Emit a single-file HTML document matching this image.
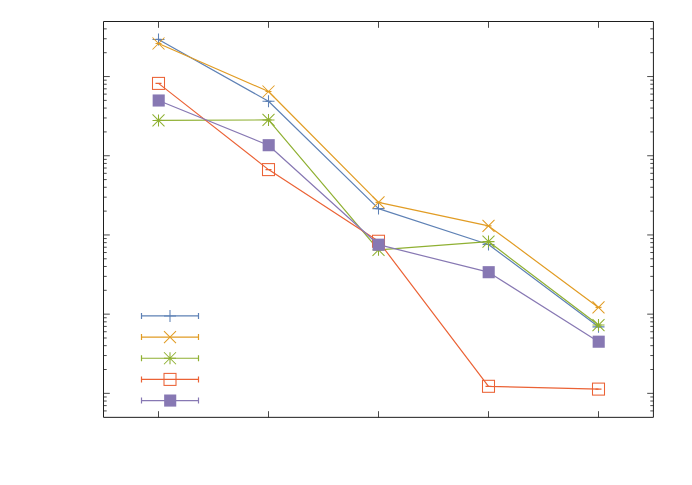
<!DOCTYPE html>
<html><head><meta charset="utf-8"><title>plot</title>
<style>html,body{margin:0;padding:0;background:#fff;font-family:"Liberation Sans",sans-serif}svg{display:block}</style></head><body>
<svg width="692" height="485" viewBox="0 0 692 485">
<rect width="692" height="485" fill="#fff"/>
<path d="M103.5 76.55h6.3M653.5 76.55h-6.3M103.5 155.75h6.3M653.5 155.75h-6.3M103.5 234.95h6.3M653.5 234.95h-6.3M103.5 314.15h6.3M653.5 314.15h-6.3M103.5 393.35h6.3M653.5 393.35h-6.3M103.5 52.71h3.2M653.5 52.71h-3.2M103.5 38.76h3.2M653.5 38.76h-3.2M103.5 28.87h3.2M653.5 28.87h-3.2M103.5 131.91h3.2M653.5 131.91h-3.2M103.5 117.96h3.2M653.5 117.96h-3.2M103.5 108.07h3.2M653.5 108.07h-3.2M103.5 100.39h3.2M653.5 100.39h-3.2M103.5 94.12h3.2M653.5 94.12h-3.2M103.5 88.82h3.2M653.5 88.82h-3.2M103.5 84.23h3.2M653.5 84.23h-3.2M103.5 80.17h3.2M653.5 80.17h-3.2M103.5 211.11h3.2M653.5 211.11h-3.2M103.5 197.16h3.2M653.5 197.16h-3.2M103.5 187.27h3.2M653.5 187.27h-3.2M103.5 179.59h3.2M653.5 179.59h-3.2M103.5 173.32h3.2M653.5 173.32h-3.2M103.5 168.02h3.2M653.5 168.02h-3.2M103.5 163.43h3.2M653.5 163.43h-3.2M103.5 159.37h3.2M653.5 159.37h-3.2M103.5 290.31h3.2M653.5 290.31h-3.2M103.5 276.36h3.2M653.5 276.36h-3.2M103.5 266.47h3.2M653.5 266.47h-3.2M103.5 258.79h3.2M653.5 258.79h-3.2M103.5 252.52h3.2M653.5 252.52h-3.2M103.5 247.22h3.2M653.5 247.22h-3.2M103.5 242.63h3.2M653.5 242.63h-3.2M103.5 238.57h3.2M653.5 238.57h-3.2M103.5 369.51h3.2M653.5 369.51h-3.2M103.5 355.56h3.2M653.5 355.56h-3.2M103.5 345.67h3.2M653.5 345.67h-3.2M103.5 337.99h3.2M653.5 337.99h-3.2M103.5 331.72h3.2M653.5 331.72h-3.2M103.5 326.42h3.2M653.5 326.42h-3.2M103.5 321.83h3.2M653.5 321.83h-3.2M103.5 317.77h3.2M653.5 317.77h-3.2M103.5 410.92h3.2M653.5 410.92h-3.2M103.5 405.62h3.2M653.5 405.62h-3.2M103.5 401.03h3.2M653.5 401.03h-3.2M103.5 396.97h3.2M653.5 396.97h-3.2M158.5 417.5v-6.3M158.5 21.5v6.3M268.5 417.5v-6.3M268.5 21.5v6.3M378.5 417.5v-6.3M378.5 21.5v6.3M488.5 417.5v-6.3M488.5 21.5v6.3M598.5 417.5v-6.3M598.5 21.5v6.3" stroke="#2a2a2a" stroke-width="0.85" fill="none"/>
<path d="M103.5 417.35V21.5H653.42V417.35Z" fill="none" stroke="#1e1e1e" stroke-width="1" stroke-linejoin="miter"/>
<path d="M141.5 315.97H198.5M141.5 312.97v6M198.5 312.97v6" stroke="#5E81B5" stroke-width="1.2" fill="none"/>
<path d="M164.0 315.97h12.0M170 309.97v12.0" stroke="#5E81B5" stroke-width="1.05" fill="none"/>
<polyline points="158.5,39.4 268.5,101.3 378.5,208.6 488.5,244.5 598.5,326.85" stroke="#5E81B5" stroke-width="1.2" fill="none" stroke-linejoin="round"/>
<path d="M155.5 39.4h6M265.5 101.3h6M375.5 208.6h6M485.5 244.5h6M595.5 326.85h6" stroke="#5E81B5" stroke-width="1.2" fill="none"/>
<path d="M152.5 39.4h12.0M158.5 33.4v12.0" stroke="#5E81B5" stroke-width="1.05" fill="none"/>
<path d="M262.5 101.3h12.0M268.5 95.3v12.0" stroke="#5E81B5" stroke-width="1.05" fill="none"/>
<path d="M372.5 208.6h12.0M378.5 202.6v12.0" stroke="#5E81B5" stroke-width="1.05" fill="none"/>
<path d="M482.5 244.5h12.0M488.5 238.5v12.0" stroke="#5E81B5" stroke-width="1.05" fill="none"/>
<path d="M592.5 326.85h12.0M598.5 320.85v12.0" stroke="#5E81B5" stroke-width="1.05" fill="none"/>
<path d="M141.5 337.1H198.5M141.5 334.1v6M198.5 334.1v6" stroke="#E19C24" stroke-width="1.2" fill="none"/>
<path d="M164.0 331.1l12.0 12.0M164.0 343.1l12.0 -12.0" stroke="#E19C24" stroke-width="1.05" fill="none"/>
<polyline points="158.5,43.5 268.5,91.5 378.5,202.4 488.5,225.9 598.5,307.4" stroke="#E19C24" stroke-width="1.2" fill="none" stroke-linejoin="round"/>
<path d="M155.5 43.5h6M265.5 91.5h6M375.5 202.4h6M485.5 225.9h6M595.5 307.4h6" stroke="#E19C24" stroke-width="1.2" fill="none"/>
<path d="M152.5 37.5l12.0 12.0M152.5 49.5l12.0 -12.0" stroke="#E19C24" stroke-width="1.05" fill="none"/>
<path d="M262.5 85.5l12.0 12.0M262.5 97.5l12.0 -12.0" stroke="#E19C24" stroke-width="1.05" fill="none"/>
<path d="M372.5 196.4l12.0 12.0M372.5 208.4l12.0 -12.0" stroke="#E19C24" stroke-width="1.05" fill="none"/>
<path d="M482.5 219.9l12.0 12.0M482.5 231.9l12.0 -12.0" stroke="#E19C24" stroke-width="1.05" fill="none"/>
<path d="M592.5 301.4l12.0 12.0M592.5 313.4l12.0 -12.0" stroke="#E19C24" stroke-width="1.05" fill="none"/>
<path d="M141.5 358.25H198.5M141.5 355.25v6M198.5 355.25v6" stroke="#8FB032" stroke-width="1.2" fill="none"/>
<path d="M164.0 358.25h12.0M170 352.25v12.0M164.0 352.25l12.0 12.0M164.0 364.25l12.0 -12.0" stroke="#8FB032" stroke-width="1.05" fill="none"/>
<polyline points="158.5,120.4 268.5,119.95 378.5,249.85 488.5,241.6 598.5,325.05" stroke="#8FB032" stroke-width="1.2" fill="none" stroke-linejoin="round"/>
<path d="M155.5 120.4h6M265.5 119.95h6M375.5 249.85h6M485.5 241.6h6M595.5 325.05h6" stroke="#8FB032" stroke-width="1.2" fill="none"/>
<path d="M152.5 120.4h12.0M158.5 114.4v12.0M152.5 114.4l12.0 12.0M152.5 126.4l12.0 -12.0" stroke="#8FB032" stroke-width="1.05" fill="none"/>
<path d="M262.5 119.95h12.0M268.5 113.95v12.0M262.5 113.95l12.0 12.0M262.5 125.95l12.0 -12.0" stroke="#8FB032" stroke-width="1.05" fill="none"/>
<path d="M372.5 249.85h12.0M378.5 243.85v12.0M372.5 243.85l12.0 12.0M372.5 255.85l12.0 -12.0" stroke="#8FB032" stroke-width="1.05" fill="none"/>
<path d="M482.5 241.6h12.0M488.5 235.6v12.0M482.5 235.6l12.0 12.0M482.5 247.6l12.0 -12.0" stroke="#8FB032" stroke-width="1.05" fill="none"/>
<path d="M592.5 325.05h12.0M598.5 319.05v12.0M592.5 319.05l12.0 12.0M592.5 331.05l12.0 -12.0" stroke="#8FB032" stroke-width="1.05" fill="none"/>
<path d="M141.5 379.4H198.5M141.5 376.4v6M198.5 376.4v6" stroke="#EB6235" stroke-width="1.2" fill="none"/>
<rect x="164.0" y="373.4" width="12.0" height="12.0" stroke="#EB6235" stroke-width="1.05" fill="none"/>
<polyline points="158.5,83.4 268.5,169.6 378.5,241.25 488.5,386.3 598.5,389.1" stroke="#EB6235" stroke-width="1.2" fill="none" stroke-linejoin="round"/>
<path d="M155.5 83.4h6M265.5 169.6h6M375.5 241.25h6M485.5 386.3h6M595.5 389.1h6" stroke="#EB6235" stroke-width="1.2" fill="none"/>
<rect x="152.5" y="77.4" width="12.0" height="12.0" stroke="#EB6235" stroke-width="1.05" fill="none"/>
<rect x="262.5" y="163.6" width="12.0" height="12.0" stroke="#EB6235" stroke-width="1.05" fill="none"/>
<rect x="372.5" y="235.25" width="12.0" height="12.0" stroke="#EB6235" stroke-width="1.05" fill="none"/>
<rect x="482.5" y="380.3" width="12.0" height="12.0" stroke="#EB6235" stroke-width="1.05" fill="none"/>
<rect x="592.5" y="383.1" width="12.0" height="12.0" stroke="#EB6235" stroke-width="1.05" fill="none"/>
<path d="M141.5 400.55H198.5M141.5 397.55v6M198.5 397.55v6" stroke="#8778B3" stroke-width="1.2" fill="none"/>
<rect x="164.15" y="394.50" width="12.1" height="12.1" fill="#8778B3"/>
<polyline points="158.5,100.5 268.5,145.2 378.5,244.7 488.5,272.2 598.5,341.7" stroke="#8778B3" stroke-width="1.2" fill="none" stroke-linejoin="round"/>
<path d="M155.5 100.5h6M265.5 145.2h6M375.5 244.7h6M485.5 272.2h6M595.5 341.7h6" stroke="#8778B3" stroke-width="1.2" fill="none"/>
<rect x="152.65" y="94.45" width="12.1" height="12.1" fill="#8778B3"/>
<rect x="262.65" y="139.15" width="12.1" height="12.1" fill="#8778B3"/>
<rect x="372.65" y="238.65" width="12.1" height="12.1" fill="#8778B3"/>
<rect x="482.65" y="266.15" width="12.1" height="12.1" fill="#8778B3"/>
<rect x="592.65" y="335.65" width="12.1" height="12.1" fill="#8778B3"/>
</svg></body></html>
